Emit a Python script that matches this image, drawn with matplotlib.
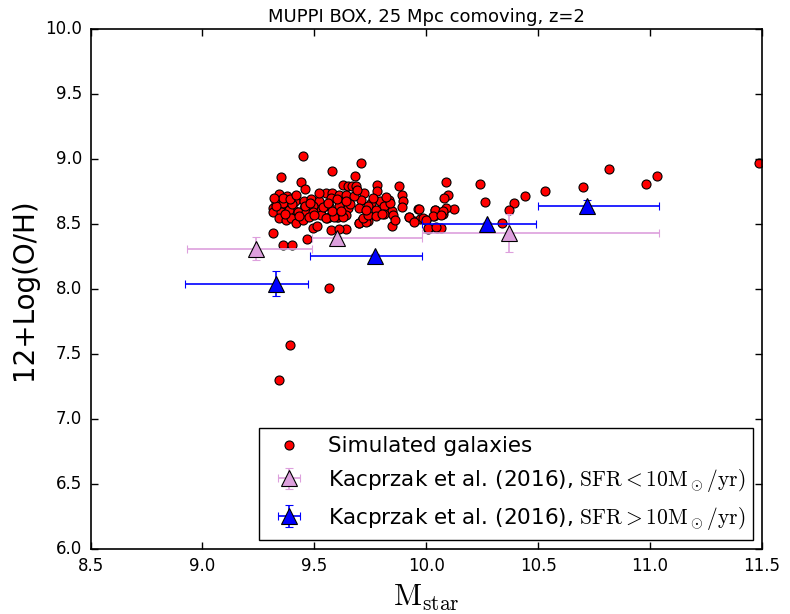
import matplotlib
matplotlib.use('Agg')
import matplotlib.pyplot as plt

# Simulated galaxies (MUPPI box, z=2)
mstar_sim = [
    9.45, 9.71, 9.58, 9.35, 9.44, 9.46, 9.68, 10.09, 9.88, 9.78,
    9.63, 9.65, 9.67, 9.78, 10.095, 10.077, 10.125, 10.088, 10.038, 10.035,
    10.074, 9.965, 9.923, 9.943, 9.972, 9.999, 10.006, 10.047, 9.849, 9.316,
    9.361, 9.398, 9.468, 9.641, 9.574, 9.612, 9.699, 9.715, 9.740, 9.493,
    9.513, 9.558, 9.603, 9.567, 9.392, 9.341, 11.485, 10.816, 11.029, 10.983,
    10.70, 10.531, 10.441, 10.391, 10.37, 10.24, 10.262, 10.338, 10.065,
    9.340, 9.376, 9.414, 9.455, 9.484, 9.522, 9.551, 9.581, 9.574, 9.612,
    9.641, 9.313, 9.350, 9.380, 9.410, 9.455, 9.492, 9.529, 9.567, 9.612,
    9.649, 9.328, 9.358, 9.891, 9.895, 9.892, 9.832, 9.791, 9.723, 9.708,
    9.679, 9.686, 9.967, 10.037, 10.074, 9.753, 9.738, 9.813, 9.847, 9.775,
    9.313, 9.350, 9.388, 9.425, 9.462, 9.492, 9.529, 9.567, 9.604, 9.641,
    9.343, 9.372, 9.395, 9.417, 9.447, 9.477, 9.551, 9.589, 9.626,
    9.698, 9.731, 9.716, 9.738, 9.775, 9.813, 9.850, 9.925, 9.947, 9.985,
    10.029, 10.066, 9.999, 10.007, 10.044,
    9.33, 9.37, 9.40, 9.43, 9.46, 9.50, 9.54, 9.58, 9.62, 9.66,
    9.70, 9.76, 9.80, 9.84, 9.86, 9.36, 9.32,
    9.39, 9.42, 9.48, 9.52, 9.56, 9.60, 9.64, 9.69, 9.73, 9.82,
]
oh_sim = [
    9.02, 8.97, 8.91, 8.86, 8.82, 8.77, 8.87, 8.82, 8.79, 8.80,
    8.80, 8.795, 8.795, 8.756, 8.723, 8.698, 8.613, 8.621, 8.608, 8.562,
    8.577, 8.615, 8.556, 8.525, 8.536, 8.531, 8.462, 8.469, 8.487, 8.433,
    8.341, 8.338, 8.382, 8.464, 8.456, 8.459, 8.505, 8.531, 8.525, 8.472,
    8.487, 8.546, 8.552, 8.005, 7.567, 7.30, 8.967, 8.923, 8.869, 8.81,
    8.785, 8.756, 8.715, 8.659, 8.608, 8.81, 8.667, 8.51, 8.469,
    8.731, 8.713, 8.675, 8.675, 8.695, 8.675, 8.738, 8.738, 8.700, 8.725,
    8.725, 8.623, 8.610, 8.623, 8.610, 8.623, 8.636, 8.610, 8.636, 8.636,
    8.623, 8.662, 8.662, 8.725, 8.675, 8.628, 8.687, 8.679, 8.738, 8.687,
    8.713, 8.790, 8.618, 8.610, 8.598, 8.662, 8.636, 8.636, 8.598, 8.610,
    8.595, 8.595, 8.608, 8.595, 8.595, 8.595, 8.569, 8.556, 8.556, 8.569,
    8.544, 8.531, 8.544, 8.510, 8.531, 8.556, 8.544, 8.556, 8.552,
    8.505, 8.518, 8.544, 8.569, 8.562, 8.577, 8.569, 8.556, 8.518, 8.544,
    8.562, 8.569, 8.531, 8.467, 8.475,
    8.64, 8.58, 8.65, 8.56, 8.64, 8.57, 8.63, 8.60, 8.60, 8.65,
    8.62, 8.70, 8.58, 8.66, 8.53, 8.70, 8.70,
    8.69, 8.72, 8.66, 8.74, 8.66, 8.69, 8.68, 8.76, 8.61, 8.71,
]

# Kacprzak et al. (2016), SFR < 10 Msun/yr
low_x = [9.24, 9.60, 10.37]
low_y = [8.31, 8.39, 8.43]
low_xerr_lo = [0.31, 0.11, 0.39]
low_xerr_hi = [0.25, 0.38, 0.67]
low_yerr = [0.09, 0.02, 0.145]

# Kacprzak et al. (2016), SFR > 10 Msun/yr
high_x = [9.33, 9.77, 10.27, 10.72]
high_y = [8.04, 8.25, 8.50, 8.64]
high_xerr_lo = [0.41, 0.29, 0.29, 0.22]
high_xerr_hi = [0.14, 0.21, 0.22, 0.32]
high_yerr = [0.095, 0.02, 0.015, 0.045]

plt.style.use('classic')
plt.rcParams['font.family'] = ['DejaVu Sans']
plt.rcParams['mathtext.fontset'] = 'cm'

fig = plt.figure(figsize=(7.9, 6.14), dpi=100, facecolor='white')
ax = fig.add_axes([0.1146, 0.1059, 0.850, 0.8469])

ax.plot(mstar_sim, oh_sim, 'o', color='red', mec='black', mew=0.8, ms=6.5,
        label='Simulated galaxies')
ax.errorbar(low_x, low_y, xerr=[low_xerr_lo, low_xerr_hi], yerr=low_yerr,
            fmt='^', color='plum', ecolor='plum', mfc='plum', mec='black',
            mew=0.8, ms=11, capsize=3, elinewidth=1.2, capthick=1.2,
            label=r'Kacprzak et al. (2016), $\mathrm{SFR}<10\mathrm{M}_\odot/\mathrm{yr})$')
ax.errorbar(high_x, high_y, xerr=[high_xerr_lo, high_xerr_hi], yerr=high_yerr,
            fmt='^', color='blue', ecolor='blue', mfc='blue', mec='black',
            mew=0.8, ms=11, capsize=3, elinewidth=1.2, capthick=1.2,
            label=r'Kacprzak et al. (2016), $\mathrm{SFR}>10\mathrm{M}_\odot/\mathrm{yr})$')

ax.set_xlim(8.5, 11.5)
ax.set_ylim(6.0, 10.0)
ax.set_xticks([8.5, 9.0, 9.5, 10.0, 10.5, 11.0, 11.5])
ax.set_yticks([6.0, 6.5, 7.0, 7.5, 8.0, 8.5, 9.0, 9.5, 10.0])
ax.tick_params(direction='in', top=True, right=True, length=5, width=1,
               labelsize=12, pad=6)
for sp in ax.spines.values():
    sp.set_linewidth(1.2)

ax.set_xlabel(r'$\mathrm{M_{star}}$', fontsize=22)
ax.set_ylabel('12+Log(O/H)', fontsize=20)
ax.set_title('MUPPI BOX, 25 Mpc comoving, z=2', fontsize=13)

leg = ax.legend(loc='lower right', numpoints=1, fontsize=15.5, fancybox=False,
                borderpad=0.4, handlelength=2.0, handletextpad=0.8,
                labelspacing=0.5, borderaxespad=0.4)
leg.get_frame().set_edgecolor('black')
leg.get_frame().set_linewidth(1.0)

fig.savefig('out.png', dpi=100, facecolor='white')
